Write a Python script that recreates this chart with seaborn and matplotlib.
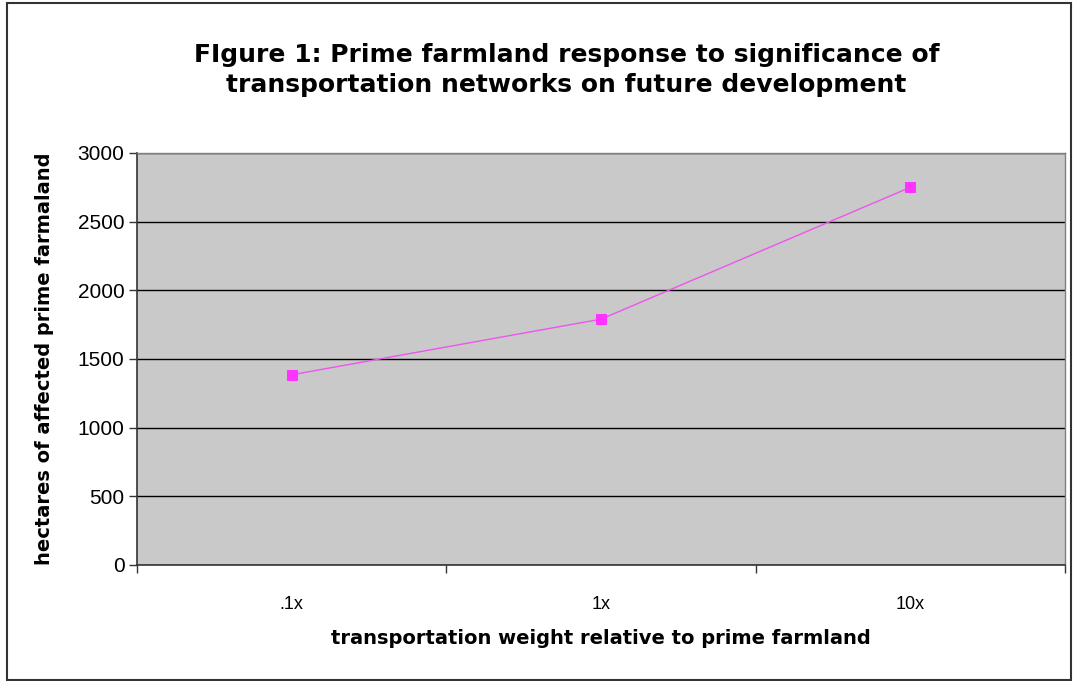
import matplotlib
matplotlib.use('Agg')
from matplotlib import pyplot as plt
from matplotlib.patches import Rectangle
import pandas as pd
import seaborn as sns

weights = ['.1x', '1x', '10x']
hectares = [1385, 1790, 2750]
yticks = [0, 500, 1000, 1500, 2000, 2500, 3000]

df = pd.DataFrame({'weight': weights, 'hectares': hectares})

sns.set_style('white')
plt.rcParams['font.family'] = ['Liberation Sans', 'DejaVu Sans']
plt.rcParams['text.color'] = 'black'
plt.rcParams['axes.labelcolor'] = 'black'
plt.rcParams['xtick.color'] = '#333333'
plt.rcParams['ytick.color'] = '#333333'
plt.rcParams['xtick.labelcolor'] = 'black'
plt.rcParams['ytick.labelcolor'] = 'black'

fig = plt.figure(figsize=(10.73, 6.81), dpi=100)
ax = fig.add_axes([137/1073, 1 - 565/681, (1065-137)/1073, (565-153)/681])
ax.set_facecolor('#c9c9c9')

sns.lineplot(data=df, x='weight', y='hectares', ax=ax, sort=False,
             color='#ee55ee', linewidth=1.0, marker='s', markersize=7,
             markerfacecolor='#ff33ff', markeredgecolor='#ff33ff')

ax.set_xlim(-0.5, 2.5)
ax.set_ylim(0, 3000)
ax.set_yticks(yticks)
ax.set_yticklabels([str(v) for v in yticks], fontsize=15)
ax.yaxis.grid(True, color='black', linewidth=1.0)
ax.set_axisbelow(True)

# category ticks sit between the categories
ax.set_xticks([0, 1, 2])
ax.set_xticklabels(weights, fontsize=13)
ax.set_xticks([-0.5, 0.5, 1.5, 2.5], minor=True)
ax.tick_params(axis='x', which='major', bottom=True, length=0, pad=22)
ax.tick_params(axis='x', which='minor', bottom=True, length=6, width=1, direction='out')
ax.tick_params(axis='y', left=True, length=6, width=1, direction='out', pad=3)

for side in ['top', 'right']:
    ax.spines[side].set_color('#808080')
    ax.spines[side].set_linewidth(1.0)
for side in ['left', 'bottom']:
    ax.spines[side].set_color('#333333')
    ax.spines[side].set_linewidth(1.2)

ax.set_xlabel('transportation weight relative to prime farmland',
              fontsize=14, fontweight='bold', family='DejaVu Sans', labelpad=12)
ax.set_ylabel('hectares of affected prime farmaland',
              fontsize=14, fontweight='bold', family='DejaVu Sans', labelpad=17)

fig.text(0.528, 1 - 70/681,
         'FIgure 1: Prime farmland response to significance of\ntransportation networks on future development',
         ha='center', va='center', fontsize=18, fontweight='bold',
         family='DejaVu Sans', linespacing=1.3)

fig.patches.append(Rectangle((7/1073, 1/681), 1064/1073, 677/681, transform=fig.transFigure,
                             fill=False, edgecolor='#333333', linewidth=1.5))

fig.savefig('out.png', dpi=100)
